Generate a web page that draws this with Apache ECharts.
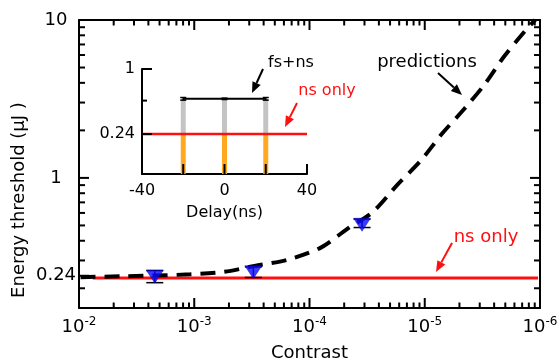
<!DOCTYPE html>
<html><head><meta charset="utf-8">
<script src="https://cdn.jsdelivr.net/npm/echarts@6/dist/echarts.min.js"></script>
<style>html,body{margin:0;padding:0;background:#fff}#c{width:560px;height:362px}</style>
</head><body><div id="c"></div>
<script>
// ---------- main chart data ----------
const contrast = [2.2e-3, 3.07e-4, 3.5e-5];
const threshold = [0.237, 0.253, 0.505];
const errLow = [0.217, 0.234, 0.485];
const errHigh = [0.259, 0.273, 0.548];

const predContrast = [9.7e-3, 8.24e-3, 4.36e-3, 1.08e-3, 5.57e-4, 3.0e-4, 1.55e-4, 7.9e-5, 4.7e-5, 2.85e-5, 1.73e-5, 1.07e-5, 7.06e-6, 4.55e-6, 3.05e-6, 2.05e-6, 1.35e-6, 1.1e-6];
const predThreshold = [0.235, 0.236, 0.238, 0.245, 0.254, 0.277, 0.303, 0.363, 0.476, 0.605, 0.903, 1.30, 1.91, 2.73, 3.88, 5.87, 8.52, 10.0];

const nsOnlyContrast = [7.6e-3, 1.04e-6];
const nsOnlyThreshold = [0.232, 0.232];

// ticks
const xMajorTicks = [1e-2, 1e-3, 1e-4, 1e-5, 1e-6];
const xMinorFactors = [2, 3, 4, 5, 6, 7, 8, 9];
const yMajorTicks = [10, 1, 0.24];
const yRightMajorTicks = [10, 1];
const yMinorTicks = [9, 8, 7, 6, 5, 4, 3, 2, 0.9, 0.8, 0.7, 0.6, 0.5, 0.4, 0.3, 0.2];

// ---------- inset data ----------
const delays = [-20, 0, 20];
const nsOnlyBar = [0.24, 0.24, 0.24];
const fsnsBar = [0.52, 0.52, 0.52];
const fsnsErrLow = [0.505, 0.512, 0.505];
const fsnsErrHigh = [0.535, 0.528, 0.535];
const insetNsDelay = [-40, 40];
const insetNsValue = [0.24, 0.24];
const insetYMajor = [1, 0.24];
const insetYMinor = [0.5];
const insetXTicks = [-40, -20, 0, 20, 40];

const FONT = 'DejaVu Sans';
const X_MIN = 1e-6, X_MAX = 1e-2, Y_MIN = 0.15, Y_MAX = 10;
const IX_MIN = -40, IX_MAX = 40, IY_MIN = 0.1, IY_MAX = 1;

const xMinorTicks = [];
[1e-2, 1e-3, 1e-4, 1e-5].forEach(d => xMinorFactors.forEach(k => xMinorTicks.push(d / k)));

const chart = echarts.init(document.getElementById('c'), null, {renderer: 'canvas'});

const axisLineStyle = {show: true, onZero: false, lineStyle: {color: '#000', width: 2}};

const xAxes = [
  {
    type: 'log', logBase: 10, inverse: true, min: X_MIN, max: X_MAX, gridIndex: 0, position: 'bottom',
    axisLine: axisLineStyle, axisTick: {show: false}, splitLine: {show: false},
    axisLabel: {
      customValues: xMajorTicks, margin: 8,
      formatter: v => '{b|10}{s|' + Math.round(Math.log10(v)) + '}',
      rich: {b: {fontSize: 18, fontFamily: FONT, color: '#000', lineHeight: 22},
             s: {fontSize: 12, fontFamily: FONT, color: '#000', verticalAlign: 'top', lineHeight: 14, padding: [0, 0, 8, 0]}}
    },
    name: 'Contrast', nameLocation: 'middle', nameGap: 36,
    nameTextStyle: {fontSize: 18, fontFamily: FONT, color: '#000'}
  },
  {
    type: 'log', logBase: 10, inverse: true, min: X_MIN, max: X_MAX, gridIndex: 0, position: 'top',
    axisLine: axisLineStyle, axisTick: {show: false}, axisLabel: {show: false}, splitLine: {show: false}
  },
  {
    type: 'value', gridIndex: 1, min: IX_MIN, max: IX_MAX, interval: 20, position: 'bottom',
    axisLine: axisLineStyle, axisTick: {show: false}, splitLine: {show: false},
    axisLabel: {margin: 9, fontSize: 16, fontFamily: FONT, color: '#000', formatter: v => (v % 40 === 0 ? String(v) : '')},
    name: 'Delay(ns)', nameLocation: 'middle', nameGap: 31, nameTextStyle: {fontSize: 16, fontFamily: FONT, color: '#000'}
  }
];
const yAxes = [
  {
    type: 'log', logBase: 10, min: Y_MIN, max: Y_MAX, gridIndex: 0, position: 'left',
    axisLine: axisLineStyle, axisTick: {show: false}, splitLine: {show: false},
    axisLabel: {customValues: yMajorTicks, margin: 23, align: 'center',
      fontSize: 18, fontFamily: FONT, color: '#000', formatter: v => String(v)}
  },
  {
    type: 'log', logBase: 10, min: Y_MIN, max: Y_MAX, gridIndex: 0, position: 'right',
    axisLine: axisLineStyle, axisTick: {show: false}, axisLabel: {show: false}, splitLine: {show: false}
  },
  {
    type: 'log', logBase: 10, gridIndex: 1, min: IY_MIN, max: IY_MAX, position: 'left',
    axisLine: axisLineStyle, axisTick: {show: false}, splitLine: {show: false},
    axisLabel: {customValues: insetYMajor, margin: 7, fontSize: 16, fontFamily: FONT, color: '#000', formatter: v => String(v)}
  }
];

// tick marks drawn through the axes' own scales
function tickSeries(xi, yi, values, side, len, anchor) {
  const data = values.map(v => (side === 'bottom' || side === 'top') ? [v, anchor] : [anchor, v]);
  return {
    type: 'custom', xAxisIndex: xi, yAxisIndex: yi, data: data, silent: true, clip: false, z: 10,
    renderItem: function (params, api) {
      const p = api.coord([api.value(0), api.value(1)]);
      let x2 = p[0], y2 = p[1];
      if (side === 'bottom') y2 -= len;
      else if (side === 'top') y2 += len;
      else if (side === 'left') x2 += len;
      else x2 -= len;
      return {type: 'line', shape: {x1: p[0], y1: p[1], x2: x2, y2: y2}, style: {stroke: '#000', lineWidth: 2}};
    }
  };
}

function errorBarRender(capW, color, lw) {
  return function (params, api) {
    const x = api.value(0);
    const lo = api.coord([x, api.value(1)]);
    const hi = api.coord([x, api.value(2)]);
    const h = capW / 2;
    const st = {stroke: color, lineWidth: lw};
    return {type: 'group', children: [
      {type: 'line', shape: {x1: lo[0], y1: lo[1], x2: hi[0], y2: hi[1]}, style: st},
      {type: 'line', shape: {x1: lo[0] - h, y1: lo[1], x2: lo[0] + h, y2: lo[1]}, style: st},
      {type: 'line', shape: {x1: hi[0] - h, y1: hi[1], x2: hi[0] + h, y2: hi[1]}, style: st}
    ]};
  };
}
function rectRender(w, color) {
  return function (params, api) {
    const x = api.value(0);
    const lo = api.coord([x, api.value(1)]);
    const hi = api.coord([x, api.value(2)]);
    return {type: 'rect', shape: {x: lo[0] - w / 2, y: hi[1], width: w, height: lo[1] - hi[1]}, style: {fill: color}};
  };
}

function arrow(x1, y1, x2, y2, color) {
  const ang = Math.atan2(y2 - y1, x2 - x1);
  const L = 11, W = 4.5;
  const bx = x2 - L * Math.cos(ang), by = y2 - L * Math.sin(ang);
  const px = -Math.sin(ang) * W, py = Math.cos(ang) * W;
  return [
    {type: 'line', shape: {x1: x1, y1: y1, x2: bx, y2: by}, style: {stroke: color, lineWidth: 2}, z: 100},
    {type: 'polygon', shape: {points: [[x2, y2], [bx + px, by + py], [bx - px, by - py]]}, style: {fill: color}, z: 100}
  ];
}
function label(x, y, text, color, size, rot) {
  return {type: 'text', x: x, y: y, rotation: rot || 0, z: 100,
    style: {text: text, fill: color, font: size + 'px "' + FONT + '"', align: 'center', verticalAlign: 'middle'}};
}

const option = {
  animation: false,
  backgroundColor: '#fff',
  grid: [
    {left: 79, top: 20, width: 461, height: 288, containLabel: false, outerBoundsMode: 'none'},
    {left: 142, top: 69, width: 165, height: 105, containLabel: false, outerBoundsMode: 'none'}
  ],
  xAxis: xAxes,
  yAxis: yAxes,
  series: [
    {type: 'line', xAxisIndex: 0, yAxisIndex: 0, data: nsOnlyContrast.map((c, i) => [c, nsOnlyThreshold[i]]),
      showSymbol: false, lineStyle: {color: '#ff1010', width: 3}, z: 2},
    {type: 'line', xAxisIndex: 0, yAxisIndex: 0, data: predContrast.map((c, i) => [c, predThreshold[i]]),
      showSymbol: false, smooth: 0.3, lineStyle: {color: '#000', width: 4, type: [15, 9], cap: 'butt'}, z: 3},
    {type: 'custom', xAxisIndex: 0, yAxisIndex: 0, data: contrast.map((c, i) => [c, errLow[i], errHigh[i]]),
      renderItem: errorBarRender(17, '#000', 1.5), z: 4},
    {type: 'scatter', xAxisIndex: 0, yAxisIndex: 0, data: contrast.map((c, i) => [c, threshold[i]]),
      symbol: 'triangle', symbolRotate: 180, symbolSize: [17, 13], itemStyle: {color: '#0a0aff', borderColor: '#0000a0', borderWidth: 0.5}, z: 5},
    // main axis ticks
    tickSeries(0, 0, xMajorTicks, 'bottom', 10, Y_MIN),
    tickSeries(0, 0, xMinorTicks, 'bottom', 5.5, Y_MIN),
    tickSeries(0, 0, xMajorTicks, 'top', 10, Y_MAX),
    tickSeries(0, 0, xMinorTicks, 'top', 5.5, Y_MAX),
    tickSeries(0, 0, yMajorTicks, 'left', 10, X_MAX),
    tickSeries(0, 0, yMinorTicks, 'left', 6, X_MAX),
    tickSeries(0, 0, yRightMajorTicks, 'right', 10, X_MIN),
    tickSeries(0, 0, yMinorTicks, 'right', 6, X_MIN),
    // inset
    {type: 'custom', xAxisIndex: 2, yAxisIndex: 2, data: delays.map((d, i) => [d, IY_MIN, nsOnlyBar[i]]),
      renderItem: rectRender(5, '#ffa820'), z: 2},
    {type: 'custom', xAxisIndex: 2, yAxisIndex: 2, data: delays.map((d, i) => [d, nsOnlyBar[i], fsnsBar[i]]),
      renderItem: rectRender(5, '#c4c4c4'), z: 2},
    {type: 'line', xAxisIndex: 2, yAxisIndex: 2, data: insetNsDelay.map((d, i) => [d, insetNsValue[i]]),
      showSymbol: false, lineStyle: {color: '#ff1010', width: 2.5}, z: 3},
    {type: 'line', xAxisIndex: 2, yAxisIndex: 2, data: delays.map((d, i) => [d, fsnsBar[i]]),
      showSymbol: false, lineStyle: {color: '#000', width: 2}, z: 4},
    {type: 'custom', xAxisIndex: 2, yAxisIndex: 2, data: delays.map((d, i) => [d, fsnsErrLow[i], fsnsErrHigh[i]]),
      renderItem: errorBarRender(6, '#000', 1.5), z: 5},
    tickSeries(2, 2, insetXTicks, 'bottom', 10, IY_MIN),
    tickSeries(2, 2, insetYMajor, 'left', 10, IX_MIN),
    tickSeries(2, 2, insetYMinor, 'left', 5, IX_MIN)
  ],
  graphic: [].concat(
    [label(19, 200, 'Energy threshold (μJ )', '#000', 18, Math.PI / 2),
     label(427, 62, 'predictions', '#000', 18),
     label(486, 237, 'ns only', '#ff1010', 18),
     label(291, 63, 'fs+ns', '#000', 16),
     label(327, 91, 'ns only', '#ff1010', 16)],
    arrow(438, 73, 462, 95, '#000'),
    arrow(452, 243, 436, 272, '#ff1010'),
    arrow(263, 69, 252, 93, '#000'),
    arrow(297, 103, 285, 127, '#ff1010')
  )
};
chart.setOption(option);
</script>
</body></html>
